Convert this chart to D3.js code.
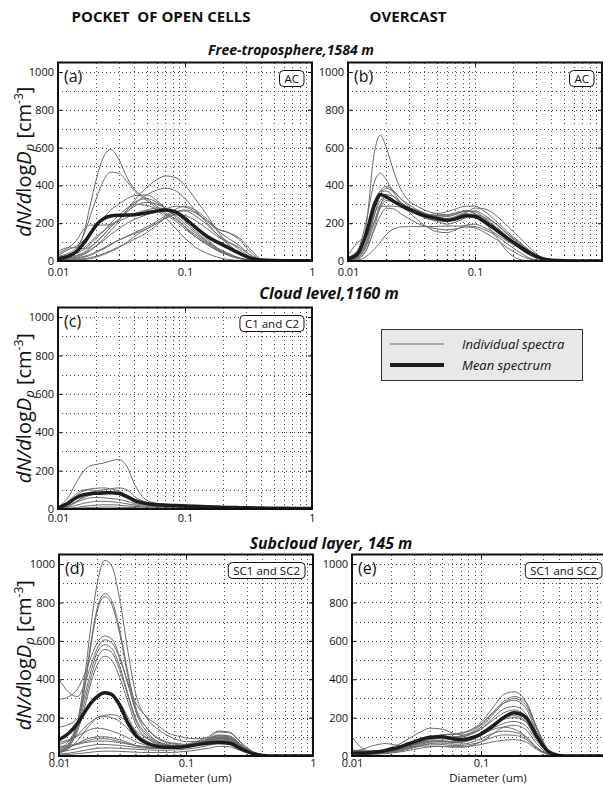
<!DOCTYPE html>
<html>
<head>
<meta charset="utf-8">
<script src="https://cdn.jsdelivr.net/npm/d3@7"></script>
<style>
  body { margin: 0; background: #fff; }
  svg { display: block; }
</style>
</head>
<body>
<svg id="fig" width="603" height="789"></svg>
<script>
'use strict';

// particle diameters (um) where every spectrum is sampled
const DIAMETERS = [0.01,0.012,0.014,0.016,0.018,0.02,0.023,0.026,0.03,0.035,0.04,0.05,0.06,0.07,0.085,0.1,0.12,0.15,0.18,0.22,0.27,0.33,0.4,0.5,0.7,1]

const Y_TICKS = [0,200,400,600,800,1000]
const Y_GRID = [100,200,300,400,500,600,700,800,900,1000]
const X_TICKS = [0.01,0.1,1]
const X_TICK_LABELS = ['0.01','0.1','1']
const X_GRID = [0.02,0.03,0.04,0.05,0.06,0.07,0.08,0.09,0.1,0.2,0.3,0.4,0.5,0.6,0.7,0.8,0.9]
const Y_MAX = 1050

// (a) pocket of open cells, free troposphere
const A_MEAN = [10,25,50,95,145,190,225,238,242,243,245,255,265,270,258,225,180,130,100,70,40,15,5,2,1,1]
const A_SPECTRA = [
  [20,30,60,150,300,430,555,590,540,440,380,330,290,255,220,180,140,95,60,35,15,5,1,0,0,0],
  [25,40,70,140,240,330,430,470,465,420,370,320,280,245,210,170,130,90,55,30,12,4,1,0,0,0],
  [10,15,20,35,55,80,120,160,210,270,320,390,430,450,440,400,330,240,160,90,40,12,3,0,0,0],
  [15,20,30,45,70,100,140,180,220,260,300,350,375,385,370,330,270,200,140,85,40,12,3,0,0,0],
  [30,60,80,110,150,190,230,270,300,330,345,350,320,280,230,180,130,85,55,30,12,4,1,0,0,0],
  [40,70,110,170,190,190,190,195,220,270,310,330,310,280,240,195,150,100,65,35,15,5,1,0,0,0],
  [5,8,12,20,30,45,65,85,110,130,150,180,210,240,275,290,270,220,170,150,120,60,10,2,0,0],
  [10,15,25,40,60,80,110,140,170,200,220,245,260,275,290,285,260,210,160,120,80,30,6,1,0,0],
  [3,5,8,12,18,25,40,55,75,95,115,150,190,230,260,270,255,210,170,150,110,45,8,1,0,0],
  [50,70,70,65,75,100,140,180,220,260,290,310,300,280,250,210,160,105,65,35,14,4,1,0,0,0],
  [20,30,40,60,90,120,160,200,240,280,300,295,270,230,170,120,75,40,20,8,2,0,0,0,0,0],
  [0,2,5,8,12,20,35,50,70,100,130,170,200,225,245,240,215,170,130,100,70,30,6,1,0,0],
  [15,30,50,70,100,130,160,190,210,230,250,270,280,275,255,220,170,115,70,40,15,5,1,0,0,0],
  [5,10,15,25,35,50,70,90,110,130,145,170,200,230,260,265,240,190,140,100,60,20,4,0,0,0]
]

// (b) overcast, free troposphere
const B_MEAN = [10,40,150,290,350,340,315,295,275,255,240,225,215,222,240,235,205,160,120,80,42,15,4,1,0,0]
const B_SPECTRA = [
  [10,40,200,560,665,600,470,380,320,290,270,250,245,255,265,250,215,160,115,70,30,8,2,0,0,0],
  [15,60,220,410,465,430,360,310,280,260,245,230,220,230,250,245,215,165,120,80,40,12,3,0,0,0],
  [5,25,110,260,370,395,370,330,300,270,250,235,225,235,260,265,240,190,140,95,50,15,3,0,0,0],
  [5,20,90,230,350,385,365,330,290,255,230,210,195,205,230,240,220,175,130,90,50,15,3,0,0,0],
  [20,60,150,290,370,370,340,310,285,265,250,240,235,245,265,260,225,170,120,75,35,10,2,0,0,0],
  [0,15,60,170,290,350,340,300,260,220,190,155,150,165,190,195,175,140,105,70,35,10,2,0,0,0],
  [10,50,140,250,290,290,290,285,280,270,255,230,215,220,240,245,230,190,145,100,55,18,4,0,0,0],
  [0,5,25,60,100,140,170,180,182,182,182,183,185,185,185,182,165,130,90,50,15,3,0,0,0,0],
  [30,100,135,200,280,320,310,290,270,255,245,240,240,250,265,250,200,120,50,10,1,0,0,0,0,0],
  [5,20,80,200,300,330,310,285,265,250,245,250,260,275,290,290,260,205,155,105,55,18,4,0,0,0],
  [5,25,100,240,320,340,320,290,265,245,230,215,210,225,255,280,275,235,185,130,70,22,5,0,0,0],
  [0,10,60,160,240,280,275,250,225,200,185,170,165,170,180,175,150,110,70,35,10,2,0,0,0,0]
]

// (c) cloud level
const C_MEAN = [5,30,60,75,80,82,84,85,82,65,45,28,22,20,18,16,14,12,10,8,7,6,5,4,3,2]
const C_SPECTRA = [
  [10,60,140,200,225,232,240,250,258,220,130,45,30,25,22,20,18,15,13,11,9,8,7,5,4,3],
  [5,30,70,95,105,108,110,105,95,70,45,25,20,18,16,15,13,11,10,8,7,6,5,4,3,2],
  [3,15,40,65,85,95,100,105,110,100,65,35,25,20,18,16,14,12,10,9,8,7,6,5,4,3],
  [5,40,80,100,100,95,90,85,75,55,35,22,18,16,14,12,11,10,9,8,7,6,5,4,3,2],
  [2,15,35,50,58,60,58,55,50,40,28,20,17,15,14,12,11,10,9,8,7,6,5,4,3,2],
  [1,8,20,30,36,40,40,38,34,27,20,15,13,12,11,10,9,8,7,6,5,5,4,3,2,2],
  [0,3,8,14,18,20,22,22,20,16,13,11,10,9,9,8,8,7,6,5,5,4,3,3,2,1],
  [2,15,40,60,72,80,84,85,82,70,50,30,22,18,16,14,12,11,10,9,8,7,6,5,4,3],
  [0,2,4,6,8,9,10,10,9,8,7,6,6,6,5,5,5,5,4,4,4,3,3,2,2,1]
]

// (d) pocket of open cells, subcloud layer
const D_MEAN = [85,120,170,230,280,310,330,320,265,170,110,65,50,45,45,50,58,68,70,66,38,14,3,0,0,0]
const D_SPECTRA = [
  [20,60,180,420,700,900,1020,990,820,540,330,190,140,110,85,75,75,85,100,95,55,20,5,0,0,0],
  [30,70,170,380,610,770,845,810,660,430,260,140,90,70,60,55,65,90,110,105,60,22,5,0,0,0],
  [15,50,150,360,590,755,830,790,640,410,240,120,75,60,50,50,60,80,95,90,52,19,5,0,0,0],
  [400,330,310,380,480,560,605,590,510,380,280,200,160,125,105,95,90,95,105,100,58,21,5,0,0,0],
  [295,310,350,430,520,590,625,610,520,370,240,140,95,75,65,60,70,88,105,100,58,21,5,0,0,0],
  [40,80,170,320,450,540,580,560,470,320,200,110,75,60,55,55,65,80,95,90,52,19,5,0,0,0],
  [25,60,150,290,420,510,555,540,450,310,190,100,70,55,50,50,60,75,90,85,50,18,4,0,0,0],
  [20,50,130,260,390,475,520,500,410,280,170,90,60,50,45,45,55,68,80,76,44,16,4,0,0,0],
  [150,165,195,240,285,315,330,320,280,200,130,75,55,50,50,55,65,80,95,90,52,19,5,0,0,0],
  [20,40,80,130,170,200,212,215,205,175,135,90,65,55,50,50,55,68,80,76,44,16,4,0,0,0],
  [60,80,110,150,180,200,205,200,180,140,100,65,50,45,45,48,55,62,70,66,38,14,3,0,0,0],
  [70,85,105,125,140,145,140,130,115,95,75,55,45,40,40,45,55,72,90,85,50,18,4,0,0,0],
  [30,45,65,85,95,100,100,95,85,70,55,45,40,40,42,48,60,90,125,120,70,25,6,0,0,0],
  [50,55,65,75,85,90,90,85,75,65,55,45,42,45,50,60,75,100,130,125,72,26,6,0,0,0],
  [20,30,40,50,55,60,60,58,55,50,45,40,38,38,40,45,55,70,85,80,46,17,4,0,0,0],
  [10,15,22,30,36,40,42,42,40,38,35,32,30,30,32,36,42,55,65,62,36,13,3,0,0,0],
  [5,8,12,16,20,23,25,25,24,22,20,18,18,18,20,24,30,40,50,48,28,10,2,0,0,0],
  [40,50,60,70,75,78,78,75,70,62,55,48,45,45,48,55,65,75,80,76,44,16,4,0,0,0]
]

// (e) overcast, subcloud layer
const E_MEAN = [15,15,18,22,28,35,45,58,72,88,98,100,90,85,95,115,150,200,225,205,105,25,3,0,0,0]
const E_SPECTRA = [
  [20,15,15,18,22,28,36,48,62,80,95,110,115,120,140,175,240,320,335,290,150,35,4,0,0,0],
  [10,12,15,18,22,28,36,46,60,75,88,100,100,105,125,160,215,285,310,285,150,35,4,0,0,0],
  [8,10,12,16,20,26,34,44,58,74,88,98,95,98,118,150,205,275,300,270,140,32,4,0,0,0],
  [15,18,20,22,25,30,38,50,65,82,98,110,112,118,135,165,220,275,290,255,125,28,3,0,0,0],
  [5,8,10,14,18,24,32,42,55,72,88,100,98,100,115,140,190,245,258,225,110,25,3,0,0,0],
  [30,25,25,28,35,45,60,80,105,130,145,140,120,110,120,140,180,225,240,210,100,22,3,0,0,0],
  [100,40,25,22,24,28,36,46,60,75,85,90,85,88,100,120,160,200,210,185,90,20,2,0,0,0],
  [10,12,14,16,20,25,32,42,55,68,78,80,75,78,90,110,150,190,200,180,90,20,2,0,0,0],
  [25,35,50,60,65,62,55,55,60,68,75,78,72,72,85,105,140,170,180,160,80,18,2,0,0,0],
  [10,12,14,16,18,22,28,36,48,62,72,75,70,72,85,110,135,150,140,105,45,10,1,0,0,0],
  [5,8,10,12,15,18,24,32,42,55,65,68,62,62,72,90,115,130,125,100,45,10,1,0,0,0],
  [20,22,24,26,28,30,34,40,48,56,62,60,55,55,62,75,95,110,108,90,40,9,1,0,0,0],
  [5,6,8,10,12,15,20,26,34,42,48,50,48,48,52,60,72,82,85,75,35,8,1,0,0,0],
  [30,28,26,26,28,32,38,45,50,52,52,50,46,46,55,75,110,150,160,140,65,14,1,0,0,0]
]

const COLUMN_TITLES = ['POCKET  OF OPEN CELLS', 'OVERCAST']
const LEVEL_TITLES = ['Free-troposphere,1584 m', 'Cloud level,1160 m', 'Subcloud layer, 145 m']
const LEGEND_LABELS = ['Individual spectra', 'Mean spectrum']

const FONT = '"Open Sans", "DejaVu Sans", sans-serif'
const THIN = '#6b6b6b'
const THICK = '#1c1c1c'
const WIDTH = 603

const PANELS = [
  {id: 'a', label: '(a)', tag: 'AC', mean: A_MEAN, spectra: A_SPECTRA, left: 58, right: 312, top: 62.5, bottom: 261, yTitle: true, xPad: 7},
  {id: 'b', label: '(b)', tag: 'AC', mean: B_MEAN, spectra: B_SPECTRA, left: 348, right: 602, top: 62.5, bottom: 261, xPad: 7},
  {id: 'c', label: '(c)', tag: 'C1 and C2', mean: C_MEAN, spectra: C_SPECTRA, left: 58, right: 312, top: 307.5, bottom: 509, yTitle: true, xPad: 5},
  {id: 'd', label: '(d)', tag: 'SC1 and SC2', mean: D_MEAN, spectra: D_SPECTRA, left: 59, right: 313, top: 554.5, bottom: 756, yTitle: true, xTitle: true, xPad: 3},
  {id: 'e', label: '(e)', tag: 'SC1 and SC2', mean: E_MEAN, spectra: E_SPECTRA, left: 352, right: 610, top: 554.5, bottom: 756, xTitle: true, xPad: 3},
]

const svg = d3.select('#fig').attr('font-family', FONT)

const drawYTitle = (x, y) => {
  const t = svg.append('text')
    .attr('transform', `translate(${x},${y}) rotate(-90)`)
    .attr('text-anchor', 'middle').attr('font-size', 20).attr('fill', '#111')
  t.append('tspan').attr('font-style', 'italic').text('dN/d')
  t.append('tspan').text('log')
  t.append('tspan').attr('font-style', 'italic').text('D')
  t.append('tspan').attr('font-style', 'italic').attr('font-size', 13).attr('dy', 3).text('p')
  t.append('tspan').attr('dy', -3).text(' [cm')
  t.append('tspan').attr('font-size', 12).attr('dy', -8).text('-3')
  t.append('tspan').attr('dy', 8).text(']')
}

const drawPanel = p => {
  const x = d3.scaleLog().domain([0.01, 1]).range([p.left, p.right])
  const y = d3.scaleLinear().domain([0, Y_MAX]).range([p.bottom, p.top])
  const w = p.right - p.left
  const h = p.bottom - p.top
  const g = svg.append('g')

  svg.append('clipPath').attr('id', 'clip-' + p.id)
    .append('rect').attr('x', p.left).attr('y', p.top).attr('width', w).attr('height', h)

  // dotted grid
  const grid = g.append('g')
    .attr('stroke', '#444').attr('stroke-width', 1)
    .attr('stroke-dasharray', '1,3').attr('shape-rendering', 'crispEdges')
  grid.selectAll('line.v').data(X_GRID).enter().append('line')
    .attr('class', 'v')
    .attr('x1', d => Math.round(x(d)) + 0.5).attr('x2', d => Math.round(x(d)) + 0.5)
    .attr('y1', p.top).attr('y2', p.bottom)
  grid.selectAll('line.h').data(Y_GRID).enter().append('line')
    .attr('class', 'h')
    .attr('x1', p.left).attr('x2', p.right)
    .attr('y1', d => Math.round(y(d)) + 0.5).attr('y2', d => Math.round(y(d)) + 0.5)

  // spectra
  const line = d3.line()
    .x((d, i) => x(DIAMETERS[i]))
    .y(d => y(d))
    .curve(d3.curveMonotoneX)
  const curves = g.append('g').attr('clip-path', `url(#clip-${p.id})`).attr('fill', 'none')
  curves.selectAll('path.spec').data(p.spectra).enter().append('path')
    .attr('class', 'spec').attr('d', line)
    .attr('stroke', THIN).attr('stroke-width', 1)
  curves.append('path').datum(p.mean).attr('d', line)
    .attr('stroke', THICK).attr('stroke-width', 3.5).attr('stroke-linejoin', 'round')

  // axes, ticks pointing inward; labels at the page edge are left out
  const shownTicks = X_TICKS.filter(d => x(d) < WIDTH - 4)
  const yAxis = g.append('g').attr('transform', `translate(${p.left},0)`)
    .call(d3.axisLeft(y).tickValues(Y_TICKS).tickFormat(d => d).tickSize(-4).tickPadding(4))
  const xAxis = g.append('g').attr('transform', `translate(0,${p.bottom})`)
    .call(d3.axisBottom(x).tickValues(shownTicks).tickFormat(d => X_TICK_LABELS[X_TICKS.indexOf(d)]).tickSize(-4).tickPadding(p.xPad))
  const xMinor = g.append('g').attr('transform', `translate(0,${p.bottom})`)
    .call(d3.axisBottom(x).tickValues(X_GRID).tickFormat('').tickSize(-2))
  const yRight = g.append('g').attr('transform', `translate(${p.right},0)`)
    .call(d3.axisRight(y).tickValues(Y_TICKS).tickFormat('').tickSize(-4))
  const xTop = g.append('g').attr('transform', `translate(0,${p.top})`)
    .call(d3.axisTop(x).tickValues(X_TICKS).tickFormat('').tickSize(-4));
  [yAxis, xAxis, xMinor, yRight, xTop].forEach(a => {
    a.select('.domain').remove()
    a.attr('font-family', FONT).attr('font-size', 11)
    a.selectAll('text').attr('fill', '#111')
  })

  g.append('rect')
    .attr('x', p.left).attr('y', p.top).attr('width', w).attr('height', h)
    .attr('fill', 'none').attr('stroke', '#111').attr('stroke-width', 2)

  g.append('text').attr('x', p.left + 6).attr('y', p.top + 19)
    .attr('font-size', 16).attr('fill', '#111').text(p.label)

  // label box in the upper right corner
  const box = g.append('rect')
  const tag = g.append('text').attr('y', p.top + 20).attr('font-size', 11.5).attr('fill', '#111').text(p.tag)
  const tw = tag.node().getComputedTextLength()
  const boxRight = p.right - 8
  tag.attr('x', boxRight - 5 - tw)
  box.attr('x', boxRight - tw - 10).attr('y', p.top + 8)
    .attr('width', tw + 10).attr('height', 16).attr('rx', 4)
    .attr('fill', '#fff').attr('stroke', '#111').attr('stroke-width', 1)

  if (p.yTitle) drawYTitle(31, (p.top + p.bottom) / 2)
  if (p.xTitle) {
    g.append('text').attr('x', x(0.1) + 7).attr('y', p.bottom + 26)
      .attr('text-anchor', 'middle').attr('font-size', 11.5).attr('fill', '#111')
      .text('Diameter (um)')
  }
}

// column and level headings
svg.selectAll('text.col').data(COLUMN_TITLES).enter().append('text')
  .attr('class', 'col')
  .attr('x', (d, i) => [161, 408][i]).attr('y', 21.5)
  .attr('text-anchor', 'middle').attr('font-size', 15).attr('font-weight', 'bold')
  .style('white-space', 'pre').attr('fill', '#111')
  .text(d => d)

svg.selectAll('text.level').data(LEVEL_TITLES).enter().append('text')
  .attr('class', 'level')
  .attr('x', (d, i) => [291, 329, 331][i]).attr('y', (d, i) => [55, 299, 549][i])
  .attr('text-anchor', 'middle').attr('font-size', (d, i) => i ? 15.8 : 14)
  .attr('font-weight', 'bold').attr('font-style', 'italic').attr('fill', '#111')
  .text(d => d)

PANELS.forEach(drawPanel)

// legend
const legend = svg.append('g')
legend.append('rect')
  .attr('x', 381.5).attr('y', 329.5).attr('width', 201).attr('height', 51)
  .attr('fill', '#e8e8e8').attr('stroke', '#333').attr('stroke-width', 1)
const items = legend.selectAll('g.item').data(LEGEND_LABELS).enter().append('g')
  .attr('class', 'item')
  .attr('transform', (d, i) => `translate(0,${344 + i * 21})`)
items.append('line')
  .attr('x1', 390).attr('x2', 444)
  .attr('stroke', (d, i) => i ? THICK : THIN)
  .attr('stroke-width', (d, i) => i ? 4 : 1)
items.append('text')
  .attr('x', 462).attr('y', 5)
  .attr('font-size', 13).attr('font-style', 'italic').attr('fill', '#111')
  .text(d => d)
</script>
</body>
</html>
